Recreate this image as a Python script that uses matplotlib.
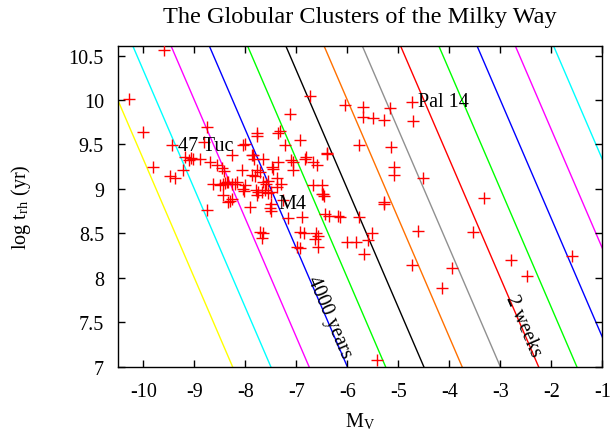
import matplotlib
matplotlib.use("Agg")
import matplotlib.pyplot as plt
import numpy as np
from matplotlib.ticker import FuncFormatter, MultipleLocator

plt.rcParams["font.family"] = ["Liberation Serif", "DejaVu Serif"]
plt.rcParams["mathtext.fontset"] = "stix"

FS = 14.5

# globular clusters: absolute magnitude and half-mass relaxation time
mv = [
    -9.59, -10.29, -10.01, -9.81, -9.44, -9.48, -9.38, -9.22,
    -9.18, -9.10, -9.06, -9.02, -8.89, -8.76, -8.81, -8.69, -8.56, -8.46, -8.42,
    -8.43, -8.40, -8.36, -8.33, -8.27, -8.20, -8.63, -8.17, -8.01, -7.78, -7.83,
    -7.87, -8.07, -7.81, -7.87, -8.01, -8.50, -8.43, -8.27, -8.33, -8.30,
    -8.03, -8.05, -7.91, -7.79, -7.75, -7.77, -8.76, -7.71, -8.27, -8.04,
    -7.12, -7.32, -7.36, -7.78, -6.93, -7.22, -6.40, -6.83, -6.67, -6.60,
    -7.10, -7.06, -7.06, -7.35, -7.48, -7.45, -7.65, -7.85, -7.38, -7.30,
    -7.38, -6.50, -7.77, -7.72, -6.67, -7.65, -7.60, -7.55, -7.67, -7.62,
    -7.55, -7.50, -7.50, -7.52, -7.49, -7.26, -6.49, -6.46, -6.44, -6.36,
    -6.18, -6.14, -7.16, -6.89, -6.61, -6.58, -6.63, -6.93, -6.85, -7.65,
    -7.67, -6.99, -6.93, -6.57, -6.01, -5.82, -5.59, -5.52, -5.68, -5.29,
    -5.78, -4.61, -4.74, -5.42,
    -6.73, -6.05, -5.70, -5.70, -5.50, -5.29, -5.16, -4.74, -4.72, -5.78,
    -5.14, -5.08, -5.08, -4.51, -6.40, -6.80, -6.48, -5.29,
    -3.53, -3.95, -4.15, -2.79, -2.48, -1.60, -3.31,
]
log_trh = [
    10.56, 10.01, 9.64, 9.25, 9.49, 9.15, 9.12, 9.21,
    9.36, 9.33, 9.35, 9.34, 9.34, 9.70, 9.53, 9.30, 9.27, 9.23, 9.20,
    9.06, 9.07, 9.08, 9.08, 9.06, 9.06, 9.05, 9.08, 9.51, 9.63, 9.34,
    9.38, 9.21, 9.15, 9.16, 9.04, 9.04, 8.93, 8.89, 8.85, 8.86,
    8.98, 9.00, 8.80, 8.99, 8.96, 8.93, 8.76, 8.52, 9.38, 9.49,
    9.84, 9.65, 9.63, 9.60, 9.55, 9.49, 9.40, 9.34, 9.30, 9.27,
    9.32, 9.30, 9.21, 9.30, 9.25, 9.22, 9.34, 9.38, 9.12, 9.05,
    9.02, 9.04, 9.21, 9.19, 9.04, 9.08, 9.06, 9.09, 8.97, 8.99,
    8.95, 8.97, 8.83, 8.78, 8.75, 8.87, 8.94, 8.92, 8.72, 8.70,
    8.70, 8.68, 8.67, 8.68, 8.50, 8.47, 8.44, 8.52, 8.50, 8.50,
    8.45, 8.35, 8.33, 8.35, 8.40, 8.40, 8.42, 8.50, 8.27, 8.83,
    8.68, 8.53, 8.14, 7.07,
    10.04, 9.94, 9.92, 9.81, 9.80, 9.77, 9.91, 9.98, 9.76, 9.49,
    9.47, 9.25, 9.16, 9.12, 9.39, 9.36, 8.94, 8.85,
    8.52, 8.11, 7.88, 8.20, 8.02, 8.24, 8.90,
]

# lines of constant ratio: log t = c - (4/3) * M_V, one per decade
line_slope = -4.0 / 3.0
line_consts = [-4, -3, -2, -1, 0, 1, 2, 3, 4, 5, 6, 7, 8]
line_colors = ["#ffff00", "#00ffff", "#ff00ff", "#0000ff", "#00ff00", "#000000",
               "#ff7000", "#909090", "#ff0000", "#00ff00", "#0000ff", "#ff00ff",
               "#00ffff"]

labels = ["47 Tuc", "M4", "Pal 14"]
label_mv = [-9.32, -7.36, -4.62]
label_t = [9.49, 8.83, 9.98]

XMIN, XMAX = -10.5, -1
YMIN, YMAX = 7, 10.61

fig = plt.figure(figsize=(6.1, 4.31), dpi=100)
ax = fig.add_axes([0.1931, 0.1469, 0.7943, 0.7447])

xs = np.array([XMIN - 1, XMAX + 1])
for c, col in zip(line_consts, line_colors):
    ax.plot(xs, c + line_slope * xs, color=col, lw=1.0, zorder=1)

ax.plot(mv, log_trh, "+", color="red", ms=9, mew=1.0, zorder=3)

for name, x, y in zip(labels, label_mv, label_t):
    ax.text(x, y, name, fontsize=FS, ha="left", va="center", zorder=4)

ang = np.degrees(np.arctan2(line_slope * 88.7, 51.0))
ax.text(-6.36, 7.56, "4000 years", fontsize=FS, rotation=ang,
        rotation_mode="anchor", ha="center", va="center")
ax.text(-2.55, 7.46, "2 weeks", fontsize=FS, rotation=ang,
        rotation_mode="anchor", ha="center", va="center")

ax.set_xlim(XMIN, XMAX)
ax.set_ylim(YMIN, YMAX)
ax.xaxis.set_major_locator(MultipleLocator(1))
ax.yaxis.set_major_locator(MultipleLocator(0.5))
fmt = FuncFormatter(lambda v, p: "%g" % v)
ax.xaxis.set_major_formatter(fmt)
ax.yaxis.set_major_formatter(fmt)
ax.tick_params(direction="in", top=True, right=True, length=5, width=1,
               labelsize=FS)
ax.tick_params(axis="x", pad=11)
ax.tick_params(axis="y", pad=10)
for s in ax.spines.values():
    s.set_linewidth(1.0)

ax.set_xlabel(r"M$_\mathregular{V}$", fontsize=FS, labelpad=7)
ax.set_ylabel(r"log t$_\mathregular{rh}$ (yr)", fontsize=FS, labelpad=26)
ax.set_title("The Globular Clusters of the Milky Way", fontsize=17.5, pad=17)

fig.savefig("out.png", dpi=100)
